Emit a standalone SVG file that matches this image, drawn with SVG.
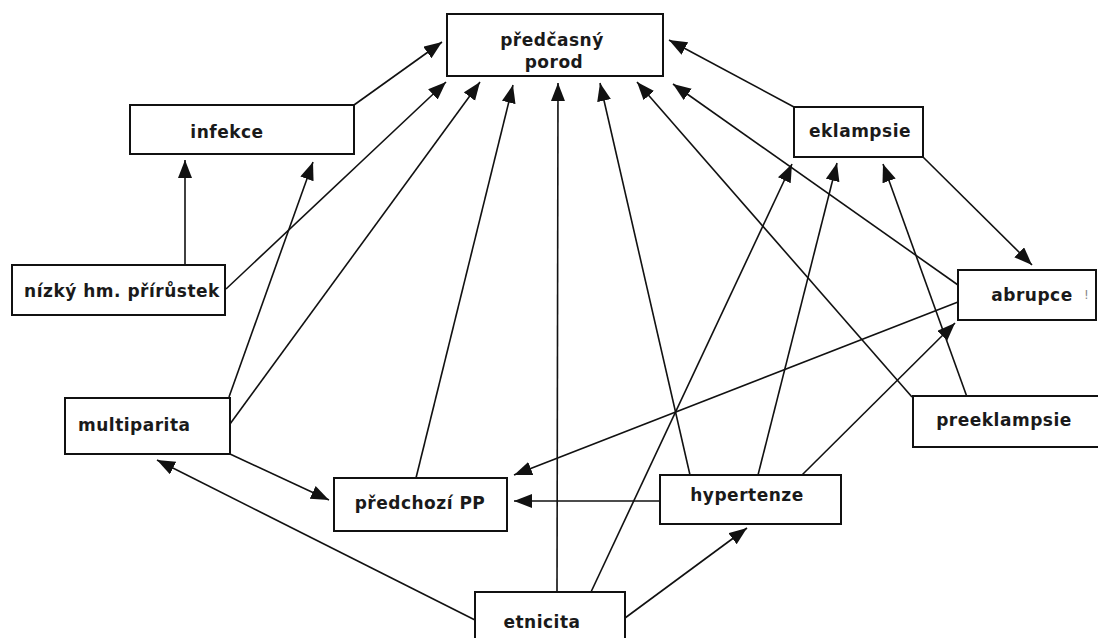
<svg xmlns="http://www.w3.org/2000/svg" width="1098" height="638" viewBox="0 0 1098 638">
<defs>
<style>
.box{fill:#fff;stroke:#111;stroke-width:2}
.lbl{font-family:"DejaVu Sans",Verdana,sans-serif;font-weight:bold;font-size:17px;letter-spacing:0.5px;fill:#1a1a1a}
.c{stroke:#111;stroke-width:1.6;fill:none;marker-end:url(#ah)}
</style>
<marker id="ah" markerUnits="userSpaceOnUse" markerWidth="20" markerHeight="16" refX="18" refY="7" orient="auto">
<path d="M0,0 L18,7 L0,14 z" fill="#111"/>
</marker>
</defs>
<rect width="1098" height="638" fill="#fff"/>
<g id="connectors">
<line class="c" x1="354" y1="105" x2="442" y2="42"/>
<line class="c" x1="226" y1="289" x2="446" y2="82"/>
<line class="c" x1="230" y1="424" x2="480" y2="82"/>
<line class="c" x1="416" y1="478" x2="513" y2="85"/>
<line class="c" x1="557" y1="592" x2="558" y2="83"/>
<line class="c" x1="690" y1="475" x2="600" y2="83"/>
<line class="c" x1="912" y1="397" x2="637" y2="82"/>
<line class="c" x1="794" y1="107" x2="669" y2="40"/>
<line class="c" x1="958" y1="285" x2="673" y2="84"/>
<line class="c" x1="185" y1="265" x2="185" y2="160"/>
<line class="c" x1="229" y1="397" x2="313" y2="162"/>
<line class="c" x1="923" y1="157" x2="1032" y2="265"/>
<line class="c" x1="591" y1="592" x2="792" y2="164"/>
<line class="c" x1="758" y1="475" x2="837" y2="163"/>
<line class="c" x1="967" y1="397" x2="883" y2="164"/>
<line class="c" x1="802" y1="475" x2="955" y2="323"/>
<line class="c" x1="958" y1="302" x2="514" y2="475"/>
<line class="c" x1="660" y1="501" x2="514" y2="501"/>
<line class="c" x1="230" y1="454" x2="329" y2="500"/>
<line class="c" x1="475" y1="620" x2="157" y2="460"/>
<line class="c" x1="625" y1="618" x2="747" y2="528"/>
</g>
<g id="porod"><rect class="box" x="447" y="14" width="216" height="62"/><text class="lbl" x="552" y="46" text-anchor="middle">předčasný</text><text class="lbl" x="554" y="68" text-anchor="middle">porod</text></g>
<g id="infekce"><rect class="box" x="130" y="105" width="224" height="49"/><text class="lbl" x="227" y="138" text-anchor="middle">infekce</text></g>
<g id="nizky"><rect class="box" x="12" y="265" width="213" height="50"/><text class="lbl" x="122" y="297" text-anchor="middle">nízký hm. přírůstek</text></g>
<g id="eklampsie"><rect class="box" x="794" y="107" width="129" height="50"/><text class="lbl" x="860" y="137" text-anchor="middle">eklampsie</text></g>
<g id="abrupce"><rect class="box" x="958" y="270" width="138" height="50"/><text class="lbl" x="1032" y="301" text-anchor="middle">abrupce</text><text x="1084" y="299" font-family="DejaVu Sans,sans-serif" font-size="12" fill="#888">!</text></g>
<g id="multiparita"><rect class="box" x="65" y="398" width="165" height="56"/><text class="lbl" x="78" y="431">multiparita</text></g>
<g id="predchozi"><rect class="box" x="334" y="478" width="173" height="53"/><text class="lbl" x="420" y="509" text-anchor="middle">předchozí PP</text></g>
<g id="hypertenze"><rect class="box" x="660" y="475" width="181" height="49"/><text class="lbl" x="747" y="501" text-anchor="middle">hypertenze</text></g>
<g id="preeklampsie"><rect class="box" x="913" y="396" width="195" height="51"/><text class="lbl" x="1004" y="426" text-anchor="middle">preeklampsie</text></g>
<g id="etnicita"><rect class="box" x="475" y="592" width="150" height="60"/><text class="lbl" x="542" y="628" text-anchor="middle">etnicita</text></g>
</svg>
